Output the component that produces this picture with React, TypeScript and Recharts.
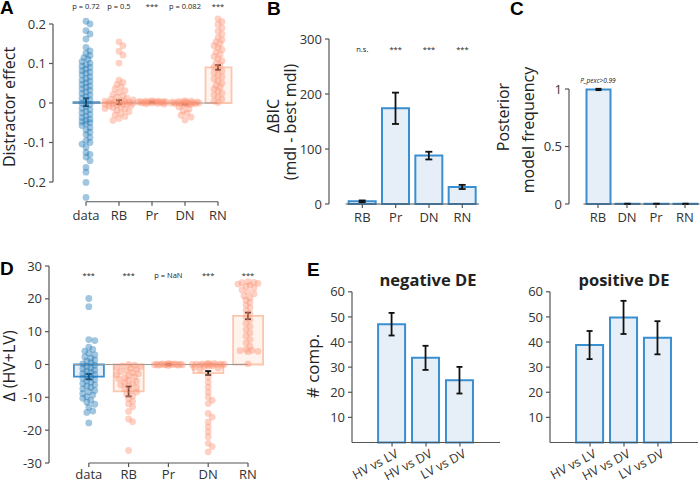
import React from 'react';
import { ComposedChart, Bar, Scatter, XAxis, YAxis, ErrorBar, ReferenceLine, Cell } from 'recharts';

const W = 700;
const H = 482;
const FONT = '"Open Sans", sans-serif';
const AXIS = '#555';
const TEXT = '#333';
const BLUE = '#3a8fd0';
const BLUE_FILL = '#e6eff8';
const BLUE_DOT = '#1f77b4';
const SALMON_LINE = '#fcc6ae';
const SALMON_FILL = '#fff3ee';
const SALMON_DOT = '#fc9272';

// ---- panel A: distractor effect ----
const aCats = ['data', 'RB', 'Pr', 'DN', 'RN'];
const aMeans = [0.002, 0.002, 0.002, -0.003, 0.09];
const aErrs = [0.01, 0.005, 0.001, 0.001, 0.006];
const aPLabels = ['p = 0.72', 'p = 0.5', '***', 'p = 0.082', '***'];
const aData = [0.207, 0.2, 0.183, 0.175, 0.162, 0.141, 0.132, 0.126, 0.12, 0.115, 0.111, 0.105, 0.101, 0.097, 0.093, 0.09, 0.086, 0.082, 0.078, 0.075, 0.071, 0.066, 0.062, 0.058, 0.055, 0.051, 0.047, 0.043, 0.04, 0.036, 0.032, 0.028, 0.024, 0.02, 0.016, 0.012, 0.008, 0.004, 0.0, -0.004, -0.009, -0.013, -0.017, -0.021, -0.025, -0.029, -0.033, -0.037, -0.041, -0.044, -0.047, -0.05, -0.053, -0.057, -0.062, -0.068, -0.074, -0.08, -0.087, -0.095, -0.1, -0.104, -0.112, -0.125, -0.13, -0.137, -0.146, -0.163, -0.175, -0.201, -0.239];
const aRB = [0.155, 0.145, 0.131, 0.121, 0.101, 0.058, 0.052, 0.047, 0.041, 0.036, 0.031, 0.027, 0.022, 0.018, 0.015, 0.012, 0.01, 0.008, 0.006, 0.005, 0.004, 0.003, 0.002, 0.001, 0.0, 0.0, -0.001, -0.002, -0.003, -0.004, -0.005, -0.007, -0.008, -0.01, -0.012, -0.014, -0.016, -0.019, -0.022, -0.026, -0.03, -0.034, -0.039, -0.044];
const aPr = [0.006, 0.005, 0.005, 0.004, 0.004, 0.003, 0.003, 0.003, 0.002, 0.002, 0.002, 0.002, 0.001, 0.001, 0.0, 0.0, -0.001, -0.002, -0.003];
const aDN = [0.006, 0.005, 0.004, 0.003, 0.003, 0.002, 0.002, 0.001, 0.001, 0.0, 0.0, 0.0, -0.001, -0.001, -0.002, -0.002, -0.003, -0.004, -0.006, -0.01, -0.015, -0.02, -0.026, -0.031, -0.036, -0.043];
const aRN = [0.213, 0.206, 0.199, 0.19, 0.182, 0.174, 0.166, 0.16, 0.155, 0.15, 0.145, 0.14, 0.135, 0.129, 0.123, 0.118, 0.112, 0.107, 0.101, 0.096, 0.091, 0.086, 0.081, 0.076, 0.071, 0.066, 0.061, 0.056, 0.05, 0.045, 0.04, 0.035, 0.03, 0.025, 0.02, 0.015, 0.01, 0.005, 0.001];

// ---- panel B: delta BIC ----
const bCats = ['RB', 'Pr', 'DN', 'RN'];
const bMeans = [5, 174, 88, 31];
const bErrs = [1.5, 28.5, 7, 3.8];
const bPLabels = ['n.s.', '***', '***', '***'];

// ---- panel C: posterior model frequency ----
const cCats = ['RB', 'DN', 'Pr', 'RN'];
const cMeans = [0.996, 0.002, 0.002, 0.002];
const cErrs = [0.006, 0.001, 0.001, 0.001];
const cPLabels = ['P_pexc>0.99', '', '', ''];

// ---- panel D: delta (HV+LV) ----
const dCats = ['data', 'RB', 'Pr', 'DN', 'RN'];
const dMeans = [-3.7, -8.2, 0, -2.6, 14.8];
const dErrs = [0.8, 1.5, 0.2, 0.6, 1];
const dPLabels = ['***', '***', 'p = NaN', '***', '***'];
const dData = [20.1, 17.6, 7.6, 7.3, 5.3, 4.6, 4.1, 3.4, 2.9, 2.3, 1.9, 1.4, 1.0, 0.6, 0.2, -0.2, -0.6, -1.0, -1.3, -1.7, -2.1, -2.4, -2.8, -3.1, -3.5, -3.9, -4.2, -4.6, -5.0, -5.4, -5.8, -6.2, -6.6, -7.0, -7.4, -7.9, -8.3, -8.8, -9.3, -9.8, -10.3, -10.9, -11.5, -12.1, -13.0, -14.2, -14.6, -17.8];
const dRB = [0.0, -0.2, -0.4, -0.7, -1.0, -1.2, -1.5, -1.9, -2.2, -2.5, -2.8, -3.1, -3.4, -3.8, -4.1, -4.4, -4.8, -5.1, -5.5, -5.8, -6.2, -6.6, -7.0, -7.4, -7.9, -8.4, -9.0, -9.6, -10.4, -11.2, -12.0, -12.9, -14.3, -16.6, -17.4, -26.2];
const dPr = [0.3, 0.2, 0.2, 0.1, 0.1, 0.1, 0.0, 0.0, 0.0, 0.0, -0.1, -0.1, -0.1, -0.2, -0.2, -0.3];
const dDN = [0.4, 0.3, 0.2, 0.2, 0.1, 0.1, 0.0, 0.0, 0.0, -0.1, -0.1, -0.2, -0.3, -0.4, -0.6, -0.8, -1.1, -1.5, -3.8, -5.4, -6.9, -8.4, -9.9, -10.9, -11.9, -14.9, -16.0, -17.5, -19.0, -20.5, -22.0, -24.0, -25.0, -26.6];
const dRN = [25.2, 25.0, 24.9, 24.7, 24.5, 24.2, 23.8, 23.3, 22.7, 22.1, 21.5, 20.9, 20.3, 19.6, 18.9, 18.1, 17.3, 16.4, 15.5, 14.5, 13.6, 12.6, 11.6, 10.6, 9.6, 8.6, 7.6, 6.6, 5.6, 4.6, 4.3, 4.2, 4.0, 3.9, 0.2];

// ---- panel E: number of comparisons ----
const eCats = ['HV vs LV', 'HV vs DV', 'LV vs DV'];
const eNeg = [47.1, 33.7, 24.8];
const eNegErr = [4.5, 4.8, 5.3];
const ePos = [38.8, 49.8, 41.7];
const ePosErr = [5.6, 6.6, 6.6];

type Box = { left: number; top: number; right: number; bottom: number };

// simple beeswarm: offsets in px, points may overlap once maxPx is reached
function swarm(vals: number[], pxY: number, maxPx: number, minD = 4.5, step = 2) {
  const placed: [number, number][] = [];
  return vals.map(v => {
    const py = v * pxY;
    const cands = [0];
    for (let s = step; s <= maxPx + 1e-6; s += step) cands.push(s, -s);
    let best = 0;
    let bestD = -1;
    for (const c of cands) {
      let d = Infinity;
      for (const [qx, qy] of placed) d = Math.min(d, Math.hypot(qx - c, qy - py));
      if (d >= minD) { best = c; break; }
      if (d > bestD) { bestD = d; best = c; }
    }
    placed.push([best, py]);
    return best;
  });
}

const tickStyle = { fill: TEXT, fontSize: 13, fontFamily: FONT };

const Dot = (color: string) => (p: any) => (
  <circle cx={p.cx} cy={p.cy} r={3.4} fill={color} fillOpacity={0.42} />
);
const PText = (size: number, italic = false) => (p: any) => (
  <text x={p.cx} y={p.cy} textAnchor="middle" dominantBaseline="central" fontSize={size}
    fontFamily={FONT} fontStyle={italic ? 'italic' : 'normal'} fill="#222">{p.payload.label}</text>
);
const Nothing = () => <g />;

interface StripProps {
  box: Box; xDomain: [number, number]; yDomain: [number, number]; yTicks: number[];
  yFmt: (v: number) => string; cats: string[]; means: number[]; errs: number[];
  pLabels: string[]; pY: number; points: number[][]; spread: number[]; barSize: number;
  trimY?: [number, number]; xMargin?: number;
}

const StripPanel: React.FC<StripProps> = ({ box, xDomain, yDomain, yTicks, yFmt, cats, means, errs, pLabels, pY, points, spread, barSize, trimY, xMargin }) => {
  const pxX = (box.right - box.left) / (xDomain[1] - xDomain[0]);
  const pxY = (box.bottom - box.top) / (yDomain[1] - yDomain[0]);
  const blue: any[] = [];
  const salmon: any[] = [];
  points.forEach((vals, i) => {
    const offs = swarm(vals, pxY, spread[i]);
    vals.forEach((v, k) => (i === 0 ? blue : salmon).push({ x: i + offs[k] / pxX, y: v }));
  });
  const bars = cats.map((c, i) => ({ x: i, y: means[i] }));
  const meanPts = cats.map((c, i) => ({ x: i, y: means[i], err: errs[i] }));
  const labels = cats.map((c, i) => ({ x: i, y: pY, label: pLabels[i] }));
  const last = cats.length - 1;
  return (
    <div style={{ position: 'absolute', left: 0, top: 0 }}>
      <ComposedChart width={W} height={H} data={bars}
        margin={{ top: box.top, right: W - box.right, bottom: 0, left: box.left - 45 }}>
        <XAxis type="number" dataKey="x" domain={xDomain} ticks={cats.map((c, i) => i)} interval={0}
          tickFormatter={(v: number) => cats[v]} axisLine={false} tickLine={{ stroke: AXIS, strokeWidth: 1.2 }}
          tickSize={4} tickMargin={xMargin ?? 5} height={H - box.bottom} tick={tickStyle} />
        <XAxis xAxisId="pts" type="number" dataKey="x" domain={xDomain} hide />
        <YAxis type="number" dataKey="y" domain={yDomain} ticks={yTicks} interval={0} tickFormatter={yFmt}
          width={45} axisLine={trimY ? false : { stroke: AXIS, strokeWidth: 1.2 }}
          tickLine={{ stroke: AXIS, strokeWidth: 1.2 }} tickSize={4} tickMargin={3} tick={tickStyle} />
        <ReferenceLine segment={[{ x: -0.4, y: 0 }, { x: last, y: 0 }]} stroke="#999" strokeWidth={1} ifOverflow="visible" />
        <ReferenceLine segment={[{ x: 0, y: yDomain[0] }, { x: last, y: yDomain[0] }]} stroke={AXIS} strokeWidth={1.2} ifOverflow="visible" />
        {trimY && (
          <ReferenceLine segment={[{ x: xDomain[0], y: trimY[0] }, { x: xDomain[0], y: trimY[1] }]} stroke={AXIS} strokeWidth={1.2} ifOverflow="visible" />
        )}
        <Bar dataKey="y" barSize={barSize} isAnimationActive={false} strokeWidth={1.8}>
          {bars.map((b, i) => (
            <Cell key={i} fill={i === 0 ? BLUE_FILL : SALMON_FILL} stroke={i === 0 ? BLUE : SALMON_LINE} />
          ))}
        </Bar>
        <Scatter xAxisId="pts" data={salmon} dataKey="y" shape={Dot(SALMON_DOT)} isAnimationActive={false} />
        <Scatter xAxisId="pts" data={blue} dataKey="y" shape={Dot(BLUE_DOT)} isAnimationActive={false} />
        <Scatter data={meanPts} dataKey="y" shape={Nothing} isAnimationActive={false}>
          <ErrorBar dataKey="err" direction="y" width={3} stroke="#111" strokeWidth={1.8} />
        </Scatter>
        <Scatter data={labels} dataKey="y" shape={PText(7.5)} isAnimationActive={false} />
      </ComposedChart>
    </div>
  );
};

interface BarProps {
  box: Box; xDomain: [number, number]; yDomain: [number, number]; yTicks: number[];
  yFmt?: (v: number) => string; cats: string[]; means: number[]; errs: number[];
  pLabels?: string[]; pY?: number; barSize: number; trimY?: [number, number];
  trimX?: [number, number]; rotate?: boolean; italicP?: boolean; pSize?: number; capW?: number;
}

const RotTick = (p: any) => {
  const x = p.x + 7;
  const y = p.y + 8;
  return (
    <text x={x} y={y} transform={`rotate(-28, ${x}, ${y})`} textAnchor="end" fontSize={12.5}
      fontFamily={FONT} fill={TEXT}>{eCats[p.payload.value]}</text>
  );
};

const BarPanel: React.FC<BarProps> = ({ box, xDomain, yDomain, yTicks, yFmt, cats, means, errs, pLabels, pY, barSize, trimY, trimX, rotate, italicP, pSize, capW }) => {
  const bars = cats.map((c, i) => ({ x: i, y: means[i], err: errs[i] }));
  const labels = pLabels ? cats.map((c, i) => ({ x: i, y: pY, label: pLabels[i] })) : [];
  return (
    <div style={{ position: 'absolute', left: 0, top: 0 }}>
      <ComposedChart width={W} height={H} data={bars}
        margin={{ top: box.top, right: W - box.right, bottom: 0, left: box.left - 45 }}>
        <XAxis type="number" dataKey="x" domain={xDomain} ticks={cats.map((c, i) => i)} interval={0}
          tickFormatter={(v: number) => cats[v]} axisLine={trimX ? false : { stroke: AXIS, strokeWidth: 1.2 }}
          tickLine={{ stroke: AXIS, strokeWidth: 1.2 }} tickSize={4} tickMargin={rotate ? 2 : 5}
          height={H - box.bottom} tick={rotate ? RotTick : tickStyle} />
        <YAxis type="number" dataKey="y" domain={yDomain} ticks={yTicks} interval={0} tickFormatter={yFmt}
          width={45} axisLine={trimY ? false : { stroke: AXIS, strokeWidth: 1.2 }}
          tickLine={{ stroke: AXIS, strokeWidth: 1.2 }} tickSize={4} tickMargin={3} tick={tickStyle} />
        {trimX && (
          <ReferenceLine segment={[{ x: trimX[0], y: yDomain[0] }, { x: trimX[1], y: yDomain[0] }]} stroke={AXIS} strokeWidth={1.2} ifOverflow="visible" />
        )}
        {trimY && (
          <ReferenceLine segment={[{ x: xDomain[0], y: trimY[0] }, { x: xDomain[0], y: trimY[1] }]} stroke={AXIS} strokeWidth={1.2} ifOverflow="visible" />
        )}
        <Bar dataKey="y" barSize={barSize} fill={BLUE_FILL} stroke={BLUE} strokeWidth={2} isAnimationActive={false}>
          <ErrorBar dataKey="err" direction="y" width={capW ?? 3.5} stroke="#111" strokeWidth={1.8} />
        </Bar>
        {pLabels && <Scatter data={labels} dataKey="y" shape={PText(pSize || 7.5, italicP)} isAnimationActive={false} />}
      </ComposedChart>
    </div>
  );
};

const fmt1 = (v: number) => (v === 0 ? '0' : v.toFixed(1));
const fmtC = (v: number) => (v === 0 ? '0' : v === 1 ? '1' : String(v));

export default function App() {
  const label = { fontFamily: FONT, fill: '#222' };
  const letter = { fontFamily: '"Liberation Sans", Arial, sans-serif', fontWeight: 700, fontSize: 19, fill: '#000' };
  return (
    <div style={{ position: 'absolute', left: 0, top: 0, width: W, height: H, background: '#fff', overflow: 'hidden' }}>
      <StripPanel box={{ left: 53, top: 4.25, right: 234.5, bottom: 201.75 }} xDomain={[-1, 4.5]} yDomain={[-0.25, 0.25]}
        yTicks={[-0.2, -0.1, 0, 0.1, 0.2]} yFmt={fmt1} cats={aCats} means={aMeans} errs={aErrs}
        pLabels={aPLabels} pY={0.245} points={[aData, aRB, aPr, aDN, aRN]} spread={[5, 14, 14, 14, 5]}
        barSize={26} trimY={[-0.2, 0.2]} />
      <StripPanel box={{ left: 49, top: 266, right: 267.9, bottom: 463 }} xDomain={[-1, 4.5]} yDomain={[-30, 30]}
        yTicks={[-30, -20, -10, 0, 10, 20, 30]} yFmt={(v) => String(v)} cats={dCats} means={dMeans} errs={dErrs}
        pLabels={dPLabels} pY={27.3} points={[dData, dRB, dPr, dDN, dRN]} spread={[6, 14, 14, 16, 10]}
        barSize={30} xMargin={3} />
      <BarPanel box={{ left: 329, top: 39, right: 479, bottom: 204 }} xDomain={[-1, 3.5]} yDomain={[0, 300]}
        yTicks={[0, 100, 200, 300]} cats={bCats} means={bMeans} errs={bErrs} pLabels={bPLabels} pY={282}
        barSize={27} trimX={[-0.5, 3.5]} />
      <BarPanel box={{ left: 569, top: 77.5, right: 699.5, bottom: 204 }} xDomain={[-1, 3.5]} yDomain={[0, 1.1]}
        yTicks={[0, 0.5, 1]} yFmt={fmtC} cats={cCats} means={cMeans} errs={cErrs} pLabels={cPLabels} pY={1.07}
        barSize={24} trimX={[-0.5, 3.5]} trimY={[0, 1]} italicP pSize={6.5} capW={3} />
      <BarPanel box={{ left: 352, top: 291.8, right: 500, bottom: 442.5 }} xDomain={[-1.18, 3.18]} yDomain={[0, 60]}
        yTicks={[10, 20, 30, 40, 50, 60]} cats={eCats} means={eNeg} errs={eNegErr} barSize={27} rotate capW={3} />
      <BarPanel box={{ left: 550, top: 291.8, right: 698, bottom: 442.5 }} xDomain={[-1.18, 3.18]} yDomain={[0, 60]}
        yTicks={[10, 20, 30, 40, 50, 60]} cats={eCats} means={ePos} errs={ePosErr} barSize={27} rotate capW={3} />
      <svg width={W} height={H} style={{ position: 'absolute', left: 0, top: 0, pointerEvents: 'none' }}>
        <text x={0} y={14} {...letter}>A</text>
        <text x={267} y={15} {...letter}>B</text>
        <text x={510} y={15} {...letter}>C</text>
        <text x={0} y={275} {...letter}>D</text>
        <text x={307} y={276} {...letter}>E</text>
        <text transform="translate(15,107) rotate(-90)" textAnchor="middle" fontSize={16} {...label}>Distractor effect</text>
        <text transform="translate(15,366) rotate(-90)" textAnchor="middle" fontSize={16} {...label}>Δ (HV+LV)</text>
        <text transform="translate(279,116) rotate(-90)" textAnchor="middle" fontSize={16} {...label}>ΔBIC</text>
        <text transform="translate(296,122) rotate(-90)" textAnchor="middle" fontSize={16} {...label}>(mdl - best mdl)</text>
        <text transform="translate(509,117) rotate(-90)" textAnchor="middle" fontSize={16} {...label}>Posterior</text>
        <text transform="translate(534,130) rotate(-90)" textAnchor="middle" fontSize={16} {...label}>model frequency</text>
        <text transform="translate(319,366) rotate(-90)" textAnchor="middle" fontSize={17} {...label}># comp.</text>
        <text x={428} y={286} textAnchor="middle" fontSize={16.5} fontWeight={700} {...label}>negative DE</text>
        <text x={624} y={286} textAnchor="middle" fontSize={16.5} fontWeight={700} {...label}>positive DE</text>
      </svg>
    </div>
  );
}
